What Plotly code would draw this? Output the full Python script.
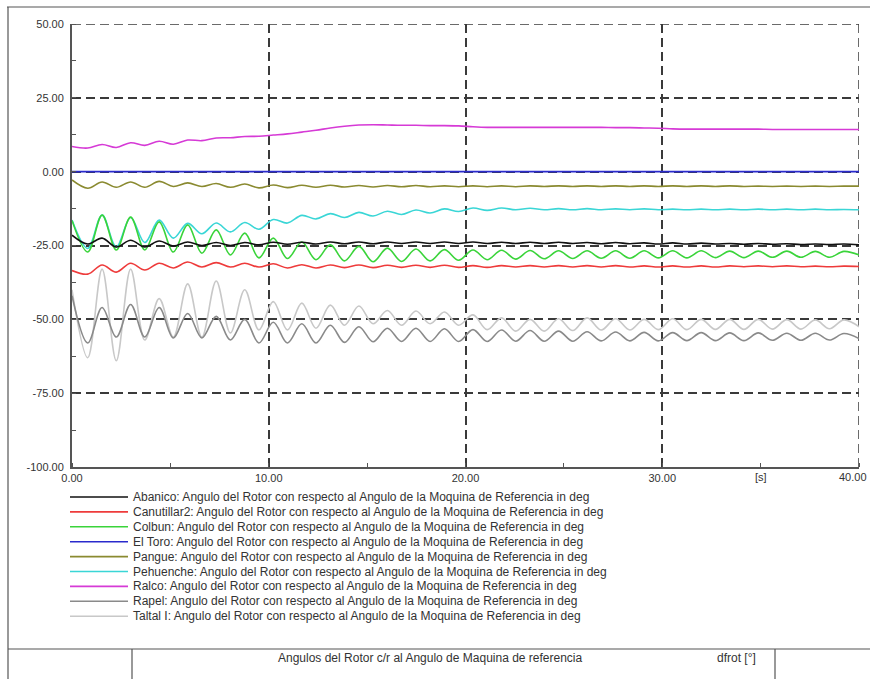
import plotly.graph_objects as go

# ---------------------------------------------------------------------------
# Rotor angles relative to the reference machine [deg] versus time [s]
# Samples taken at the swing extrema of the electromechanical oscillation
# ---------------------------------------------------------------------------
T = [0.0, 0.8, 1.53, 2.25, 2.98, 3.7, 4.43, 5.15, 5.88, 6.6, 7.33, 8.05,
     8.78, 9.5, 10.23, 10.95, 11.68, 12.4, 13.13, 13.85, 14.58, 15.3, 16.03,
     16.75, 17.48, 18.2, 18.93, 19.65, 20.38, 21.1, 21.83, 22.55, 23.28, 24.0,
     24.73, 25.45, 26.18, 26.9, 27.63, 28.35, 29.08, 29.8, 30.53, 31.25,
     31.98, 32.7, 33.43, 34.15, 34.88, 35.6, 36.33, 37.05, 37.78, 38.5,
     39.23, 40.0]

ABANICO = [
    -21.5, -24.5, -22.5, -25.5, -23.2, -25.5, -23.5, -25.2,
    -23.8, -25.0, -24.0, -25.0, -24.0, -24.8, -23.9, -24.6,
    -23.9, -24.5, -23.8, -24.4, -23.8, -24.4, -23.8, -24.3,
    -23.8, -24.3, -23.8, -24.3, -23.8, -24.3, -23.9, -24.3,
    -23.9, -24.3, -23.9, -24.3, -24.0, -24.4, -24.0, -24.4,
    -24.1, -24.5, -24.1, -24.5, -24.2, -24.5, -24.3, -24.6,
    -24.3, -24.6, -24.4, -24.7, -24.5, -24.7, -24.5, -24.8]

CANUTILLAR2 = [
    -33.5, -34.7, -31.6, -34.0, -31.0, -33.3, -31.0, -32.6,
    -30.6, -32.3, -30.8, -32.3, -31.0, -32.3, -31.2, -32.6,
    -31.5, -32.6, -31.6, -32.5, -31.6, -32.5, -31.7, -32.4,
    -31.7, -32.4, -31.7, -32.4, -31.8, -32.4, -31.8, -32.3,
    -31.8, -32.3, -31.8, -32.3, -31.8, -32.3, -31.8, -32.3,
    -31.9, -32.3, -31.9, -32.3, -31.9, -32.3, -31.9, -32.2,
    -31.9, -32.2, -31.9, -32.2, -32.0, -32.2, -32.0, -32.1]

COLBUN = [
    -16.5, -27.2, -14.7, -26.5, -15.4, -26.5, -17.0, -27.2,
    -18.0, -27.6, -19.7, -28.2, -20.8, -29.2, -22.5, -29.4,
    -23.8, -29.8, -24.8, -30.2, -25.3, -30.5, -25.9, -30.4,
    -26.2, -30.2, -26.4, -30.0, -26.5, -29.8, -26.6, -29.6,
    -26.7, -29.5, -26.8, -29.4, -26.8, -29.3, -26.8, -29.3,
    -26.8, -29.2, -26.8, -29.2, -26.8, -29.1, -26.9, -29.1,
    -26.9, -29.0, -26.9, -29.0, -27.0, -29.0, -27.0, -28.2]

EL_TORO_T = [0.0, 40.0]
EL_TORO = [0.0, 0.0]

PANGUE = [
    -2.8, -5.6, -3.5, -5.3, -3.5, -5.3, -3.3, -5.0,
    -3.8, -5.0, -4.0, -5.3, -4.2, -5.5, -4.5, -5.4,
    -4.6, -5.3, -4.6, -5.2, -4.7, -5.2, -4.7, -5.1,
    -4.7, -5.1, -4.8, -5.1, -4.8, -5.1, -4.8, -5.1,
    -4.8, -5.0, -4.8, -5.0, -4.8, -5.0, -4.8, -5.0,
    -4.8, -5.0, -4.8, -5.0, -4.8, -5.0, -4.8, -5.0,
    -4.9, -5.0, -4.9, -5.0, -4.9, -5.0, -4.9, -4.9]

PEHUENCHE = [
    -16.4, -26.0, -14.7, -25.5, -15.5, -24.0, -16.4, -22.5,
    -17.5, -21.0, -17.4, -20.4, -17.2, -19.5, -16.2, -17.4,
    -14.8, -16.0, -14.2, -15.5, -13.8, -15.0, -13.4, -14.5,
    -13.0, -14.0, -12.6, -13.5, -12.3, -13.1, -12.3, -12.9,
    -12.4, -12.9, -12.5, -12.9, -12.5, -12.9, -12.6, -12.9,
    -12.6, -12.9, -12.7, -12.9, -12.7, -12.9, -12.7, -12.9,
    -12.7, -12.9, -12.7, -12.9, -12.7, -12.9, -12.8, -12.9]

RALCO = [
    8.5, 8.0, 9.2, 8.2, 9.8, 8.9, 10.3, 9.3,
    10.7, 10.5, 11.4, 11.5, 11.9, 12.0, 12.4, 12.8,
    13.4, 14.0, 14.8, 15.4, 15.8, 15.9, 15.8, 15.7,
    15.7, 15.6, 15.6, 15.5, 15.2, 15.0, 15.0, 15.0,
    15.0, 15.0, 15.0, 15.0, 15.0, 15.0, 14.9, 14.9,
    14.8, 14.7, 14.5, 14.4, 14.4, 14.4, 14.4, 14.4,
    14.4, 14.3, 14.3, 14.3, 14.3, 14.3, 14.3, 14.3]

RAPEL = [
    -42.0, -58.0, -46.0, -56.0, -45.0, -56.0, -46.0, -56.3,
    -48.0, -56.3, -49.0, -57.0, -50.0, -58.0, -51.0, -58.0,
    -51.5, -58.0, -52.0, -57.8, -52.5, -57.6, -53.0, -57.5,
    -53.0, -57.5, -53.2, -57.5, -53.5, -57.5, -53.6, -57.4,
    -53.8, -57.4, -54.0, -57.4, -54.2, -57.3, -54.3, -57.3,
    -54.4, -57.3, -54.5, -57.2, -54.5, -57.2, -54.6, -57.2,
    -54.6, -57.1, -54.7, -57.1, -54.7, -57.0, -54.8, -56.5]

TALTAL = [
    -40.0, -63.0, -33.0, -64.0, -33.0, -57.0, -43.0, -56.0,
    -38.0, -56.0, -37.0, -54.6, -40.0, -53.6, -44.0, -53.6,
    -44.5, -53.0, -45.2, -52.0, -45.5, -51.5, -47.0, -52.0,
    -47.2, -51.5, -47.5, -52.0, -48.5, -53.5, -49.5, -54.0,
    -50.0, -54.0, -49.8, -53.8, -49.5, -53.6, -49.8, -53.6,
    -50.0, -53.5, -49.8, -53.5, -50.0, -53.4, -50.0, -53.4,
    -50.0, -53.3, -50.1, -53.3, -50.2, -53.2, -50.2, -52.5]

NAMES = ["Abanico", "Canutillar2", "Colbun", "El Toro", "Pangue",
         "Pehuenche", "Ralco", "Rapel", "Taltal I"]
SERIES = [(T, ABANICO), (T, CANUTILLAR2), (T, COLBUN), (EL_TORO_T, EL_TORO),
          (T, PANGUE), (T, PEHUENCHE), (T, RALCO), (T, RAPEL), (T, TALTAL)]
COLORS = ["#111111", "#ee3b3b", "#3ad43a", "#2a2acc", "#8a8a30",
          "#3ad6d6", "#d63ad6", "#8a8a8a", "#c8c8c8"]
LEGEND_SUFFIX = ": Angulo del Rotor con respecto al Angulo de la Moquina de Referencia in deg"

X_TICKS = [0, 10, 20, 30, 40]
Y_TICKS = [-100, -75, -50, -25, 0, 25, 50]
UNIT_TICK = 35
TITLE = "Angulos del Rotor c/r al Angulo de Maquina de referencia"
VAR_NAME = "dfrot [°]"

for tx, vals in SERIES:
    assert len(tx) == len(vals)

# ---------------------------------------------------------------------------
W, H = 870, 679
PL, PR, PT, PB = 72, 859, 24, 467          # plot-area edges in pixels
FONT = "Liberation Sans, Arial, sans-serif"
TXT = "#333333"
GRID_COLOR, GRID_DASH, GRID_W = "#3a3a3a", "9px,5px", 1.5
TICK_FONT = dict(family=FONT, size=11, color=TXT)


def px(xp):
    return (xp - PL) / (PR - PL)


def py(yp):
    return (PB - yp) / (PB - PT)


fig = go.Figure()
# Taltal I and Rapel drawn first so the stronger colours sit on top
order = [8, 7, 6, 5, 4, 2, 1, 0, 3]
for i in order:
    tx, vals = SERIES[i]
    fig.add_trace(go.Scatter(
        x=tx, y=vals, mode="lines", name=NAMES[i],
        line=dict(color=COLORS[i], width=1.6, shape="spline", smoothing=1.0),
        showlegend=False, hoverinfo="skip"))

grid = dict(showgrid=True, gridcolor=GRID_COLOR, gridwidth=GRID_W,
            griddash=GRID_DASH, zeroline=False, showline=True,
            linecolor="#555555", linewidth=2, mirror=False,
            tickfont=TICK_FONT, ticks="", automargin=False)

# The last time label sits at the very edge of the figure; it is drawn
# separately, right-aligned, so that it stays inside the page.
x_labels = [f"{v:.2f}" for v in X_TICKS]
fig.update_xaxes(range=[0, 40], tickvals=X_TICKS,
                 ticktext=x_labels[:-1] + [""],
                 minor=dict(dtick=5, ticks="inside", ticklen=4,
                            tickcolor="#555555", showgrid=False),
                 **grid)
fig.update_yaxes(range=[-100, 50], tickvals=Y_TICKS,
                 ticktext=[f"{v:.2f}" for v in Y_TICKS],
                 ticklabelstandoff=4,
                 minor=dict(dtick=12.5, ticks="inside", ticklen=4,
                            tickcolor="#555555", showgrid=False),
                 **grid)

shapes = []
annotations = []

# Dashed grid lines on the upper and right limits of the axes
shapes.append(dict(type="line", xref="x", yref="y",
                   x0=X_TICKS[0], x1=X_TICKS[-1], y0=Y_TICKS[-1], y1=Y_TICKS[-1],
                   line=dict(color=GRID_COLOR, width=GRID_W, dash=GRID_DASH),
                   layer="below"))
shapes.append(dict(type="line", xref="x", yref="y",
                   x0=X_TICKS[-1], x1=X_TICKS[-1], y0=Y_TICKS[0], y1=Y_TICKS[-1],
                   line=dict(color=GRID_COLOR, width=GRID_W, dash=GRID_DASH),
                   layer="below"))

annotations.append(dict(x=X_TICKS[-1], y=py(477), xref="x", yref="paper",
                        text=x_labels[-1], showarrow=False, xanchor="right",
                        xshift=10, yanchor="middle", font=TICK_FONT))

# Unit label on the time axis
annotations.append(dict(x=UNIT_TICK, y=py(477), xref="x", yref="paper",
                        text="[s]", showarrow=False, xanchor="center",
                        yanchor="middle", font=TICK_FONT))

# Legend block below the axes
row0, drow = 497, 14.9
for k, (name, col) in enumerate(zip(NAMES, COLORS)):
    yy = row0 + k * drow
    shapes.append(dict(type="line", xref="paper", yref="paper",
                       x0=px(70), x1=px(128), y0=py(yy), y1=py(yy),
                       line=dict(color=col, width=1.6)))
    annotations.append(dict(x=px(131), y=py(yy), xref="paper", yref="paper",
                            text=name + LEGEND_SUFFIX, showarrow=False,
                            xanchor="left", yanchor="middle",
                            font=dict(family=FONT, size=12, color=TXT)))

# Outer frame and title block
frame = "#555555"
for (x0, y0, x1, y1) in [(7, 7, 870, 7), (8, 7, 8, 679), (8, 649, 870, 649),
                         (132, 649, 132, 679), (775, 649, 775, 679)]:
    shapes.append(dict(type="line", xref="paper", yref="paper",
                       x0=px(x0), x1=px(x1), y0=py(y0), y1=py(y1),
                       line=dict(color=frame, width=1.2)))

annotations.append(dict(x=px(430), y=py(658), xref="paper", yref="paper",
                        text=TITLE, showarrow=False, xanchor="center",
                        yanchor="middle",
                        font=dict(family=FONT, size=12, color=TXT)))
annotations.append(dict(x=px(736), y=py(658), xref="paper", yref="paper",
                        text=VAR_NAME, showarrow=False, xanchor="center",
                        yanchor="middle",
                        font=dict(family=FONT, size=12, color=TXT)))

fig.update_layout(
    width=W, height=H,
    margin=dict(l=PL, r=W - PR, t=PT, b=H - PB, pad=0, autoexpand=False),
    paper_bgcolor="white", plot_bgcolor="white",
    showlegend=False, shapes=shapes, annotations=annotations,
    font=dict(family=FONT),
)

fig.write_html("out.html")
